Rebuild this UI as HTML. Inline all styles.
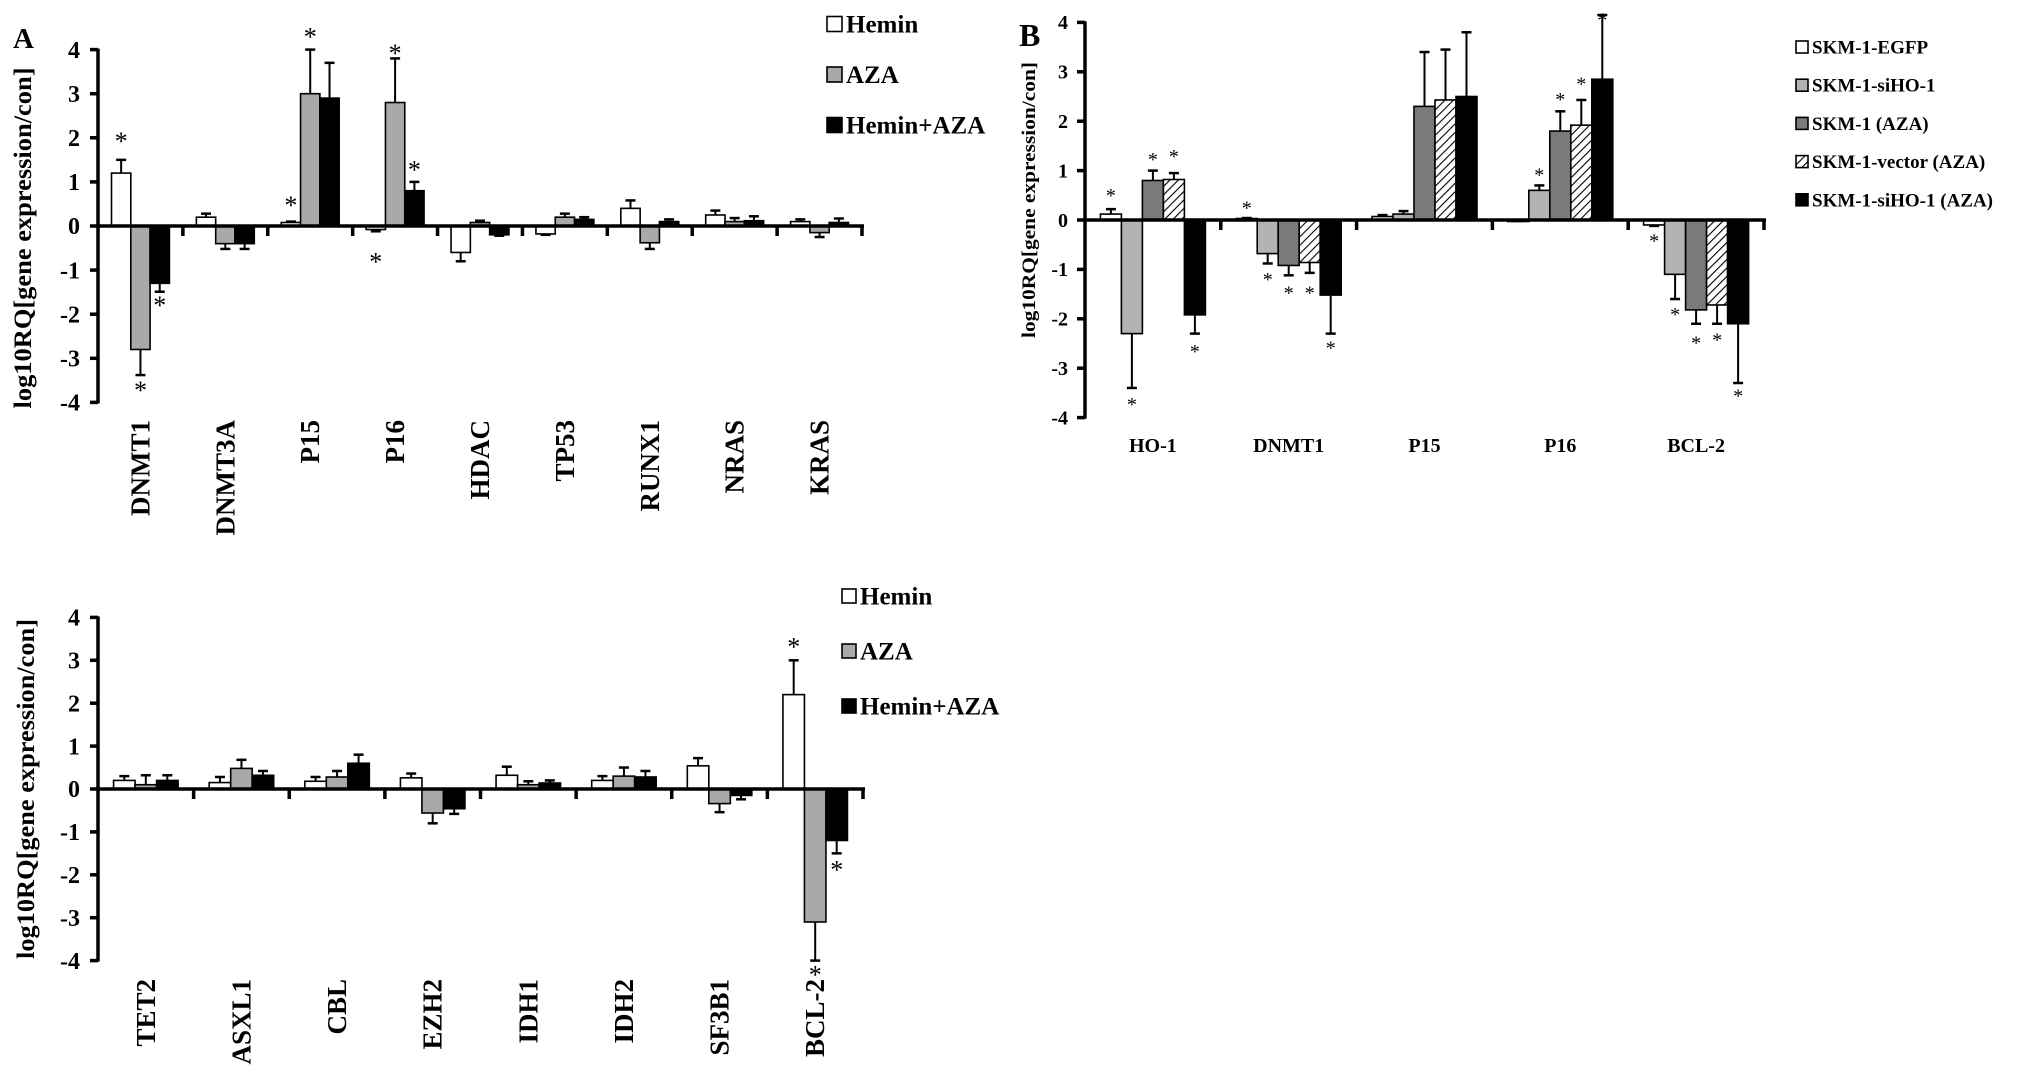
<!DOCTYPE html>
<html><head><meta charset="utf-8">
<style>
html,body{margin:0;padding:0;background:#fff;}
svg{display:block;font-family:"Liberation Serif","Times New Roman",serif;font-weight:bold;}
</style></head>
<body>
<svg id="fig" width="2031" height="1074" viewBox="0 0 2031 1074" xmlns="http://www.w3.org/2000/svg">
<defs>
<pattern id="hatch" patternUnits="userSpaceOnUse" width="6" height="6" patternTransform="rotate(45)">
<rect width="6" height="6" fill="#fff"/>
<line x1="0" y1="0" x2="0" y2="6" stroke="#000" stroke-width="2.2"/>
</pattern>
</defs>
</svg>
<script>
// ---------- Chart A data ----------
const catsA = ["DNMT1","DNMT3A","P15","P16","HDAC","TP53","RUNX1","NRAS","KRAS"];
const seriesNamesA = ["Hemin","AZA","Hemin+AZA"];
const heminA = [1.2,0.2,0.08,-0.08,-0.6,-0.18,0.4,0.25,0.1];
const azaA = [-2.8,-0.4,3.0,2.8,0.08,0.2,-0.38,0.1,-0.15];
const comboA = [-1.3,-0.4,2.9,0.8,-0.2,0.15,0.1,0.12,0.08];
const heminErrA = [1.5,0.28,0.1,-0.12,-0.8,-0.2,0.58,0.35,0.15];
const azaErrA = [-3.38,-0.52,4.0,3.8,0.12,0.28,-0.52,0.18,-0.25];
const comboErrA = [-1.49,-0.52,3.7,1.0,-0.22,0.2,0.15,0.22,0.17];
const starsA = [[0,0,2.0],[0,1,-3.65],[0,2,-1.72],[2,0,0.55],[2,1,4.37],[3,0,-0.73],[3,1,4.0],[3,2,1.35]];
const ticksA = [4,3,2,1,0,-1,-2,-3,-4];

// ---------- Chart B data ----------
const catsB = ["HO-1","DNMT1","P15","P16","BCL-2"];
const seriesNamesB = ["SKM-1-EGFP","SKM-1-siHO-1","SKM-1 (AZA)","SKM-1-vector (AZA)","SKM-1-siHO-1 (AZA)"];
const egfpB = [0.12,0.03,0.07,-0.02,-0.1];
const siHOB = [-2.3,-0.68,0.12,0.6,-1.1];
const azaB = [0.8,-0.92,2.3,1.8,-1.82];
const vectorB = [0.82,-0.86,2.43,1.92,-1.72];
const siHOazaB = [-1.92,-1.52,2.5,2.85,-2.1];
const egfpErrB = [0.22,0.04,0.1,-0.02,-0.12];
const siHOErrB = [-3.4,-0.88,0.18,0.7,-1.6];
const azaErrB = [1.0,-1.12,3.4,2.2,-2.1];
const vectorErrB = [0.95,-1.07,3.45,2.43,-2.1];
const siHOazaErrB = [-2.3,-2.3,3.8,4.15,-3.3];
const starsB = [[0,0,0.55],[0,1,-3.68],[0,2,1.28],[0,3,1.34],[0,4,-2.6],
 [1,0,0.3],[1,1,-1.15],[1,2,-1.42],[1,3,-1.42],[1,4,-2.53],
 [3,1,0.97],[3,2,2.5],[3,3,2.81],[3,4,4.11],
 [4,0,-0.37],[4,1,-1.85],[4,2,-2.43],[4,3,-2.37],[4,4,-3.5]];
const ticksB = [4,3,2,1,0,-1,-2,-3,-4];

// ---------- Chart C data ----------
const catsC = ["TET2","ASXL1","CBL","EZH2","IDH1","IDH2","SF3B1","BCL-2"];
const seriesNamesC = ["Hemin","AZA","Hemin+AZA"];
const heminC = [0.2,0.15,0.18,0.26,0.32,0.2,0.54,2.2];
const azaC = [0.1,0.48,0.28,-0.56,0.1,0.3,-0.34,-3.1];
const comboC = [0.2,0.32,0.6,-0.46,0.14,0.28,-0.15,-1.2];
const heminErrC = [0.3,0.28,0.28,0.36,0.52,0.3,0.72,3.0];
const azaErrC = [0.32,0.68,0.42,-0.8,0.18,0.5,-0.54,-4.0];
const comboErrC = [0.32,0.42,0.8,-0.58,0.2,0.42,-0.24,-1.5];
const starsC = [[7,0,3.4],[7,1,-4.25],[7,2,-1.8]];
const ticksC = [4,3,2,1,0,-1,-2,-3,-4];

const NS = "http://www.w3.org/2000/svg";
const svg = document.getElementById("fig");
function mk(tag, attrs, parent){
  const e = document.createElementNS(NS, tag);
  for (const k in attrs) e.setAttribute(k, attrs[k]);
  (parent||svg).appendChild(e);
  return e;
}

function drawChart(o){
  const g = mk("g", {});
  
  
  const yS = v => o.y0 - v * o.unit;
  const catW = (o.xEnd - o.x0) / o.cats.length;
  const nS = o.values.length;
  const groupW = nS * o.barW;
  const xBar = (c, s) => o.x0 + c*catW + (catW - groupW)/2 + s*o.barW;

  for (let s = 0; s < nS; s++){
    for (let c = 0; c < o.cats.length; c++){
      const v = o.values[s][c];
      const x = xBar(c, s);
      const y1 = Math.min(yS(v), o.y0), h = Math.abs(yS(v) - o.y0);
      const r = mk("rect", {x: x, y: y1, width: o.barW, height: Math.max(h, 1.5), fill: o.colors[s], stroke: "#000", "stroke-width": 1.6}, g);
      
      
      const e = o.errs[s][c];
      const cx = x + o.barW/2;
      const el = mk("line", {x1: cx, x2: cx, y1: yS(v), y2: yS(e), stroke: "#000", "stroke-width": 2}, g);
      
      
      const cap = mk("line", {x1: cx-5, x2: cx+5, y1: yS(e), y2: yS(e), stroke: "#000", "stroke-width": 2.5}, g);
      
      
    }
  }
  o.stars.forEach(st => {
    const cx = xBar(st[0], st[1]) + o.barW/2;
    const t = mk("text", {x: cx, y: yS(st[2]) + o.starFs*0.47, "text-anchor": "middle", "font-size": o.starFs, "font-weight": "normal"}, g);
    t.textContent = "*";
    
    
  });
  const ya = mk("line", {x1: o.x0, x2: o.x0, y1: yS(4)-1, y2: yS(-4)+1, stroke: "#000", "stroke-width": 3.5}, g);
  
  
  const xa = mk("line", {x1: o.x0, x2: o.xEnd+2, y1: o.y0, y2: o.y0, stroke: "#000", "stroke-width": 3.5}, g);
  
  
  for (let c = 1; c <= o.cats.length; c++){
    const tx = o.x0 + c*catW;
    const tk = mk("line", {x1: tx, x2: tx, y1: o.y0, y2: o.y0+10, stroke: "#000", "stroke-width": 3.5}, g);
    
    
  }
  o.ticks.forEach(v => {
    const tk = mk("line", {x1: o.x0-8, x2: o.x0, y1: yS(v), y2: yS(v), stroke: "#000", "stroke-width": 3.5}, g);
    
    
    const t = mk("text", {x: o.x0-o.tickOff, y: yS(v)+o.tickFs*0.34, "text-anchor": "end", "font-size": o.tickFs}, g);
    t.textContent = String(v);
    
    
  });
  o.cats.forEach((name, c) => {
    const cx = o.x0 + c*catW + catW/2;
    let t;
    if (o.rotate){
      t = mk("text", {transform: `translate(${cx+9},${o.labelY}) rotate(-90)`, "text-anchor": "end", "font-size": 27}, g);
    } else {
      t = mk("text", {x: cx, y: o.labelY, "text-anchor": "middle", "font-size": 20}, g);
    }
    t.textContent = name;
    
    
  });
  const yt = mk("text", {transform: `translate(${o.titleX},${o.titleY}) rotate(-90)`, "text-anchor": "middle", "font-size": o.titleFs, textLength: o.titleLen, lengthAdjust: "spacingAndGlyphs"}, g);
  yt.textContent = "log10RQ[gene expression/con]";
  
  
  o.legend.names.forEach((n, i) => {
    const cy = o.legend.y + i*o.legend.dy;
    const sz = o.legend.box;
    const r = mk("rect", {x: o.legend.x, y: cy - sz/2, width: sz, height: sz, fill: o.colors[i], stroke: "#000", "stroke-width": 1.6}, g);
    
    
    const t = mk("text", {x: o.legend.x + sz + 4, y: cy + o.legend.fs*0.34, "font-size": o.legend.fs}, g);
    t.textContent = n;
    
    
  });
}

drawChart({name:"chart-a", cats: catsA, values:[heminA,azaA,comboA], errs:[heminErrA,azaErrA,comboErrA],
  stars: starsA, ticks: ticksA, colors:["#fff","#a9a9a9","#000"],
  x0:98, xEnd:862, y0:226, unit:44.1, barW:19.3, starFs:26, rotate:true, labelY:420,
  tickFs:24, tickOff:18,
  titleX:31, titleY:238, titleFs:25, titleLen:341,
  legend:{names:seriesNamesA, x:827, y:24, dy:50.5, box:15, fs:25}});

drawChart({name:"chart-b", cats: catsB, values:[egfpB,siHOB,azaB,vectorB,siHOazaB],
  errs:[egfpErrB,siHOErrB,azaErrB,vectorErrB,siHOazaErrB],
  stars: starsB, ticks: ticksB, colors:["#fff","#b3b3b3","#7a7a7a","url(#hatch)","#000"],
  x0:1085, xEnd:1764, y0:220, unit:49.4, barW:21, starFs:20, rotate:false, labelY:452,
  tickFs:20, tickOff:17,
  titleX:1035, titleY:200, titleFs:19, titleLen:276,
  legend:{names:seriesNamesB, x:1796, y:47, dy:38.2, box:12, fs:19}});

drawChart({name:"chart-c", cats: catsC, values:[heminC,azaC,comboC], errs:[heminErrC,azaErrC,comboErrC],
  stars: starsC, ticks: ticksC, colors:["#fff","#a9a9a9","#000"],
  x0:98, xEnd:863, y0:789, unit:42.9, barW:21.5, starFs:26, rotate:true, labelY:979,
  tickFs:24, tickOff:18,
  titleX:34, titleY:789, titleFs:25, titleLen:340,
  legend:{names:seriesNamesC, x:842, y:596, dy:55, box:14, fs:25}});

const la = mk("text", {x:13, y:48, "font-size":29});
la.textContent = "A";


const lb = mk("text", {x:1019, y:46, "font-size":32});
lb.textContent = "B";


</script>
</body></html>
